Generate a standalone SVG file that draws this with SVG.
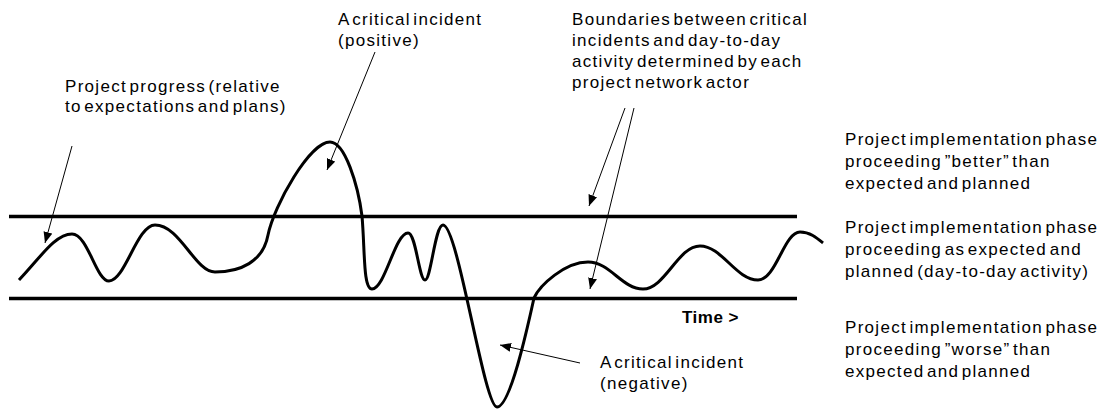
<svg xmlns="http://www.w3.org/2000/svg" width="1105" height="409" viewBox="0 0 1105 409">
<defs>
<style>
text{font-family:"Liberation Sans",Arial,sans-serif;font-size:17px;fill:#000;letter-spacing:1.3px;word-spacing:-3.5px}
.b{font-weight:bold;font-size:17px;letter-spacing:0.5px;word-spacing:0}
.thick{stroke:#000;stroke-width:3.5;fill:none}
.curve{stroke:#000;stroke-width:3;fill:none;stroke-linejoin:round}
.ptr{stroke:#000;stroke-width:1;fill:none;marker-end:url(#ah)}
</style>
<marker id="ah" markerUnits="userSpaceOnUse" markerWidth="12" markerHeight="10" refX="11" refY="4.5" orient="auto">
<path d="M0,0 L11,4.5 L0,9 z" fill="#000"/>
</marker>
</defs>
<rect width="1105" height="409" fill="#fff"/>
<g id="boundaries">
<line class="thick" x1="9" y1="216.5" x2="797" y2="216.5"/>
<line class="thick" x1="9" y1="298.5" x2="797" y2="298.5"/>
</g>
<g id="progress-curve">
<path class="curve" d="M19,280 C40,258 55,234 72,234 C88,234 96,281 109,281 C125,281 137,225 155,225 C180,225 195,272 215,272 C240,272 263,262 268,235 C274,205 310,142 330,142 C345,142 358,185 362,216 C365,250 363,289 372,289 C385,289 395,233 408,233 C416,233 419,280 425,280 C431,280 435,225 443,225 C458,225 484,407 497,407 C510,407 527,330 534,298 C540,285 565,262 588,262 C610,262 622,289 643,289 C665,289 678,246 700,246 C722,246 736,280 758,280 C776,280 784,232 800,232 C810,232 817,238 823,243"/>
</g>
<g id="connectors">
<line class="ptr" x1="72" y1="146" x2="45" y2="243"/>
<line class="ptr" x1="375" y1="52" x2="327" y2="170"/>
<line class="ptr" x1="625" y1="108" x2="589" y2="206"/>
<line class="ptr" x1="634" y1="108" x2="590" y2="289"/>
<line class="ptr" x1="580" y1="363" x2="500" y2="345"/>
</g>
<g id="label-progress">
<text x="65" y="92">Project progress (relative</text>
<text x="65" y="112">to expectations and plans)</text>
</g>
<g id="label-positive">
<text x="338" y="25">A critical incident</text>
<text x="338" y="46">(positive)</text>
</g>
<g id="label-boundaries">
<text x="572" y="25">Boundaries between critical</text>
<text x="572" y="46">incidents and day-to-day</text>
<text x="572" y="67">activity determined by each</text>
<text x="572" y="88">project network actor</text>
</g>
<g id="label-better">
<text x="845" y="145">Project implementation phase</text>
<text x="845" y="167">proceeding ”better” than</text>
<text x="845" y="189">expected and planned</text>
</g>
<g id="label-asexpected">
<text x="845" y="233">Project implementation phase</text>
<text x="845" y="255">proceeding as expected and</text>
<text x="845" y="277">planned (day-to-day activity)</text>
</g>
<g id="label-worse">
<text x="845" y="333">Project implementation phase</text>
<text x="845" y="355">proceeding ”worse” than</text>
<text x="845" y="377">expected and planned</text>
</g>
<g id="label-time">
<text class="b" x="682" y="323">Time &gt;</text>
</g>
<g id="label-negative">
<text x="600" y="368">A critical incident</text>
<text x="600" y="389">(negative)</text>
</g>
</svg>
